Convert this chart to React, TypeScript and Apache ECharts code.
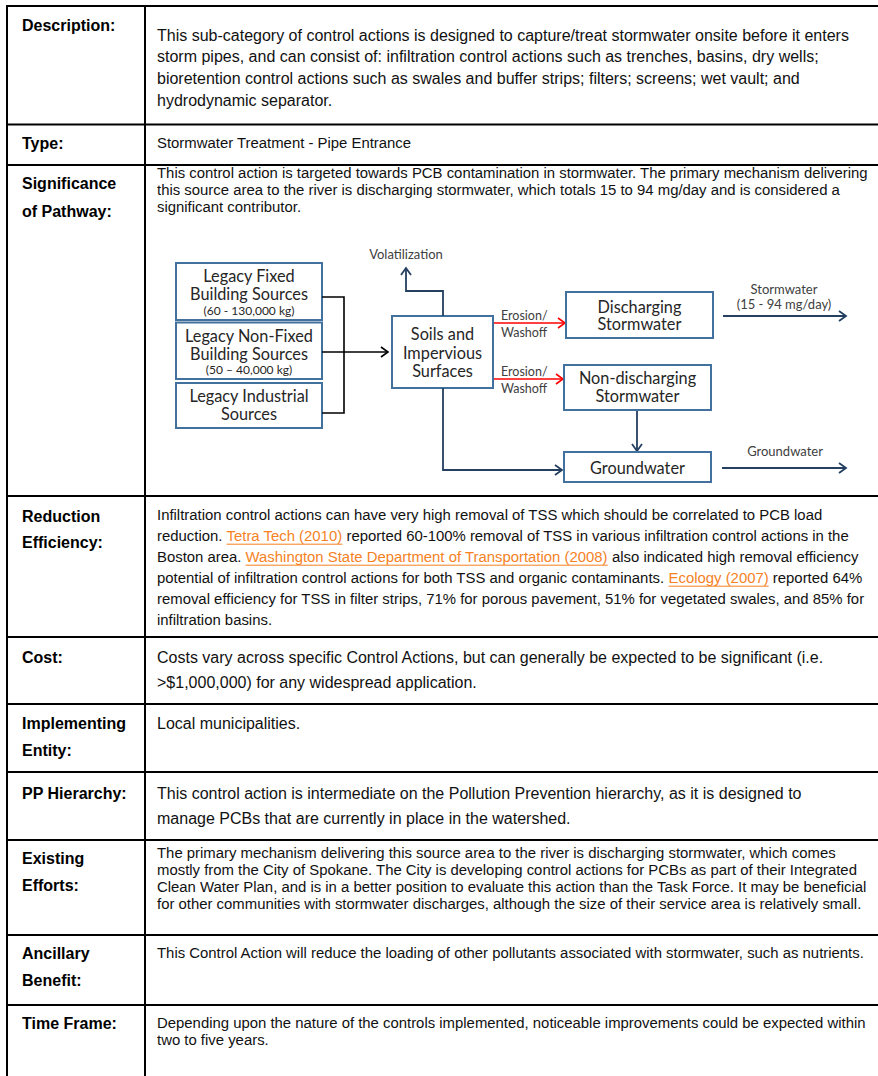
import React, { useEffect, useRef } from "react";
import * as echarts from "echarts";

// ---------- table data ----------
const rowLabels: string[][] = [
  ["Description:"],
  ["Type:"],
  ["Significance", "of Pathway:"],
  ["Reduction", "Efficiency:"],
  ["Cost:"],
  ["Implementing", "Entity:"],
  ["PP Hierarchy:"],
  ["Existing", "Efforts:"],
  ["Ancillary", "Benefit:"],
  ["Time Frame:"],
];

// text in [brackets] is a hyperlink
const rowTexts: string[][] = [
  [
    "This sub-category of control actions is designed to capture/treat stormwater onsite before it enters",
    "storm pipes, and can consist of: infiltration control actions such as trenches, basins, dry wells;",
    "bioretention control actions such as swales and buffer strips; filters; screens; wet vault; and",
    "hydrodynamic separator.",
  ],
  ["Stormwater Treatment - Pipe Entrance"],
  [
    "This control action is targeted towards PCB contamination in stormwater. The primary mechanism delivering",
    "this source area to the river is discharging stormwater, which totals 15 to 94 mg/day and is considered a",
    "significant contributor.",
  ],
  [
    "Infiltration control actions can have very high removal of TSS which should be correlated to PCB load",
    "reduction. [Tetra Tech (2010)] reported 60-100% removal of TSS in various infiltration control actions in the",
    "Boston area. [Washington State Department of Transportation (2008)] also indicated high removal efficiency",
    "potential of infiltration control actions for both TSS and organic contaminants. [Ecology (2007)] reported 64%",
    "removal efficiency for TSS in filter strips, 71% for porous pavement, 51% for vegetated swales, and 85% for",
    "infiltration basins.",
  ],
  [
    "Costs vary across specific Control Actions, but can generally be expected to be significant (i.e.",
    ">$1,000,000) for any widespread application.",
  ],
  ["Local municipalities."],
  [
    "This control action is intermediate on the Pollution Prevention hierarchy, as it is designed to",
    "manage PCBs that are currently in place in the watershed.",
  ],
  [
    "The primary mechanism delivering this source area to the river is discharging stormwater, which comes",
    "mostly from the City of Spokane. The City is developing control actions for PCBs as part of their Integrated",
    "Clean Water Plan, and is in a better position to evaluate this action than the Task Force. It may be beneficial",
    "for other communities with stormwater discharges, although the size of their service area is relatively small.",
  ],
  ["This Control Action will reduce the loading of other pollutants associated with stormwater, such as nutrients."],
  [
    "Depending upon the nature of the controls implemented, noticeable improvements could be expected within",
    "two to five years.",
  ],
];

// ---------- diagram data ----------
const sourceBoxes: string[][] = [
  ["Legacy Fixed", "Building Sources", "(60 - 130,000 kg)"],
  ["Legacy Non-Fixed", "Building Sources", "(50 \u2013 40,000 kg)"],
  ["Legacy Industrial", "Sources"],
];
const soilsBox = ["Soils and", "Impervious", "Surfaces"];
const dischargingBox = ["Discharging", "Stormwater"];
const nonDischargingBox = ["Non-discharging", "Stormwater"];
const groundwaterBox = ["Groundwater"];
const volatilizationLabel = "Volatilization";
const erosionLabel = ["Erosion/", "Washoff"];
const stormwaterOutLabel = ["Stormwater", "(15 - 94 mg/day)"];
const groundwaterOutLabel = ["Groundwater"];

// ---------- layout ----------
const W = 878;
const H = 1076;
const LEFT_X = 7;
const DIV_X = 145;
const LABEL_X = 22;
const CONTENT_X = 157;
const rowLineY = [6, 124.5, 165, 496, 637, 704, 772, 840, 935, 1005];
const labelY: number[][] = [[25], [143], [183, 211], [516, 542], [657], [723, 750], [793], [858, 885], [953, 980], [1023]];
const contentY: number[][] = [
  [35, 56.7, 78.3, 100],
  [143],
  [173, 190, 207],
  [515, 536, 557, 578, 599, 620],
  [657, 682],
  [723],
  [793, 818],
  [853, 870, 887, 904],
  [953],
  [1023, 1040],
];
const contentSize = [16, 14.9, 14.9, 14.9, 16, 16, 16, 14.9, 14.9, 14.9];

const TABLE_FONT = '"Liberation Sans", Arial, sans-serif';
const DIAG_FONT = 'Lato, "Open Sans", sans-serif';
const BOX_FS = 16.3;
const LBL_FS = 13;
const SMALL_FS = 12;
const LINK = "#F5821F";
const BOX = "#41719C";
const NAVY = "#243F60";
const RED = "#FF0000";

let measureCtx: CanvasRenderingContext2D | null = null;
function textWidth(t: string, font: string): number {
  if (!measureCtx) measureCtx = document.createElement("canvas").getContext("2d");
  measureCtx!.font = font;
  return measureCtx!.measureText(t).width;
}

function txt(x: number, y: number, t: string, font: string, fill: string, align = "left") {
  return {
    type: "text",
    x,
    y,
    silent: true,
    style: { text: t, font, fill, textAlign: align, textVerticalAlign: "middle", align, verticalAlign: "middle" },
  };
}
function ln(x1: number, y1: number, x2: number, y2: number, stroke: string, lineWidth: number) {
  return { type: "line", silent: true, shape: { x1, y1, x2, y2 }, style: { stroke, lineWidth } };
}
function poly(points: number[][], stroke: string, lineWidth: number) {
  return { type: "polyline", silent: true, shape: { points }, style: { stroke, lineWidth, fill: null } };
}
function head(tx: number, ty: number, dir: "r" | "u" | "d", color: string, lw = 1.6) {
  const L = 7, S = 5;
  let pts: number[][];
  if (dir === "r") pts = [[tx - L, ty - S], [tx, ty], [tx - L, ty + S]];
  else if (dir === "u") pts = [[tx - S, ty + L], [tx, ty], [tx + S, ty + L]];
  else pts = [[tx - S, ty - L], [tx, ty], [tx + S, ty - L]];
  return poly(pts, color, lw);
}
function box(x1: number, y1: number, x2: number, y2: number) {
  return {
    type: "rect",
    silent: true,
    shape: { x: x1, y: y1, width: x2 - x1, height: y2 - y1 },
    style: { fill: "#fff", stroke: BOX, lineWidth: 2 },
  };
}

function buildElements() {
  const els: any[] = [];
  // table content
  rowTexts.forEach((lines, r) => {
    const size = contentSize[r];
    const font = `${size}px ${TABLE_FONT}`;
    lines.forEach((line, i) => {
      const y = contentY[r][i];
      const parts = line.split(/(\[[^\]]+\])/).filter((p) => p.length > 0);
      let x = CONTENT_X;
      parts.forEach((p) => {
        const isLink = p.startsWith("[");
        const t = isLink ? p.slice(1, -1) : p;
        const w = textWidth(t, font);
        els.push(txt(x, y, t, font, isLink ? LINK : "#111", "left"));
        if (isLink) els.push(ln(x, y + size * 0.55, x + w, y + size * 0.55, LINK, 1));
        x += w;
      });
    });
  });
  // labels
  rowLabels.forEach((lines, r) => {
    lines.forEach((l, i) => els.push(txt(LABEL_X, labelY[r][i], l, `bold 16px ${TABLE_FONT}`, "#000")));
  });
  // grid lines
  rowLineY.forEach((y) => els.push(ln(LEFT_X - 1, y, W, y, "#000", 2)));
  els.push(ln(LEFT_X, rowLineY[0] - 1, LEFT_X, H, "#000", 2));
  els.push(ln(DIV_X, rowLineY[0] - 1, DIV_X, H, "#000", 2));

  // ---------- diagram ----------
  const srcRects = [
    [176, 263, 322, 320],
    [176, 322.5, 322, 379],
    [176, 383, 322, 428],
  ];
  const srcTextY = [
    [275, 293, 310],
    [335, 353, 369.5],
    [395, 413],
  ];
  sourceBoxes.forEach((lines, b) => {
    const [x1, y1, x2, y2] = srcRects[b];
    els.push(box(x1, y1, x2, y2));
    lines.forEach((l, i) => {
      const small = l.startsWith("(");
      els.push(txt((x1 + x2) / 2, srcTextY[b][i], l, `${small ? SMALL_FS : BOX_FS}px ${DIAG_FONT}`, "#262626", "center"));
    });
  });
  // bracket
  els.push(poly([[322, 297], [344, 297], [344, 413], [322, 413]], "#000", 1.6));
  els.push(ln(322, 352, 388, 352, "#000", 1.6));
  els.push(head(388, 352, "r", "#000"));

  // soils
  els.push(box(392, 316, 493, 388));
  soilsBox.forEach((l, i) => els.push(txt(442.5, [333, 352, 370][i], l, `${BOX_FS}px ${DIAG_FONT}`, "#262626", "center")));

  // volatilization
  els.push(poly([[443, 316], [443, 291], [406, 291], [406, 269]], NAVY, 1.8));
  els.push(head(406, 268, "u", NAVY, 1.8));
  els.push(txt(406, 254, volatilizationLabel, `${LBL_FS}px ${DIAG_FONT}`, "#404040", "center"));

  // erosion arrows
  [[323, 565], [379, 563]].forEach(([y, xe]) => {
    els.push(ln(494, y, xe - 1, y, RED, 1.6));
    els.push(head(xe, y, "r", RED, 1.6));
    els.push(txt(501, y - 8, erosionLabel[0], `${LBL_FS - 0.5}px ${DIAG_FONT}`, "#404040", "left"));
    els.push(txt(501, y + 9, erosionLabel[1], `${LBL_FS - 0.5}px ${DIAG_FONT}`, "#404040", "left"));
  });

  // groundwater path from soils
  els.push(poly([[443, 388], [443, 470], [561, 470]], NAVY, 1.8));
  els.push(head(562, 470, "r", NAVY, 1.8));

  // discharging
  els.push(box(566, 292, 713, 338));
  dischargingBox.forEach((l, i) => els.push(txt(639.5, [306, 323][i], l, `${BOX_FS}px ${DIAG_FONT}`, "#262626", "center")));
  // non-discharging
  els.push(box(564, 365, 711, 410));
  nonDischargingBox.forEach((l, i) => els.push(txt(637.5, [377.5, 395.5][i], l, `${BOX_FS}px ${DIAG_FONT}`, "#262626", "center")));
  // down arrow
  els.push(ln(637, 411, 637, 450, NAVY, 1.8));
  els.push(head(637, 451, "d", NAVY, 1.8));
  // groundwater box
  els.push(box(564, 452, 711, 482));
  groundwaterBox.forEach((l) => els.push(txt(637.5, 467.5, l, `${BOX_FS}px ${DIAG_FONT}`, "#262626", "center")));

  // outputs
  els.push(ln(723, 316, 845, 316, NAVY, 1.8));
  els.push(head(846, 316, "r", NAVY, 1.8));
  els.push(txt(784, 289, stormwaterOutLabel[0], `${LBL_FS}px ${DIAG_FONT}`, "#404040", "center"));
  els.push(txt(784, 304, stormwaterOutLabel[1], `${LBL_FS}px ${DIAG_FONT}`, "#404040", "center"));
  els.push(ln(722, 468, 845, 468, NAVY, 1.8));
  els.push(head(846, 468, "r", NAVY, 1.8));
  els.push(txt(785, 451, groundwaterOutLabel[0], `${LBL_FS}px ${DIAG_FONT}`, "#404040", "center"));

  return els;
}

export default function App() {
  const ref = useRef<HTMLDivElement>(null);
  useEffect(() => {
    if (!ref.current) return;
    const chart = echarts.init(ref.current, null, { renderer: "svg", width: W, height: H });
    chart.setOption({
      animation: false,
      backgroundColor: "#ffffff",
      graphic: { elements: buildElements() },
    });
    return () => chart.dispose();
  }, []);
  return (
    <div
      ref={ref}
      style={{ position: "absolute", left: 0, top: 0, width: W, height: H, background: "#fff" }}
    />
  );
}
